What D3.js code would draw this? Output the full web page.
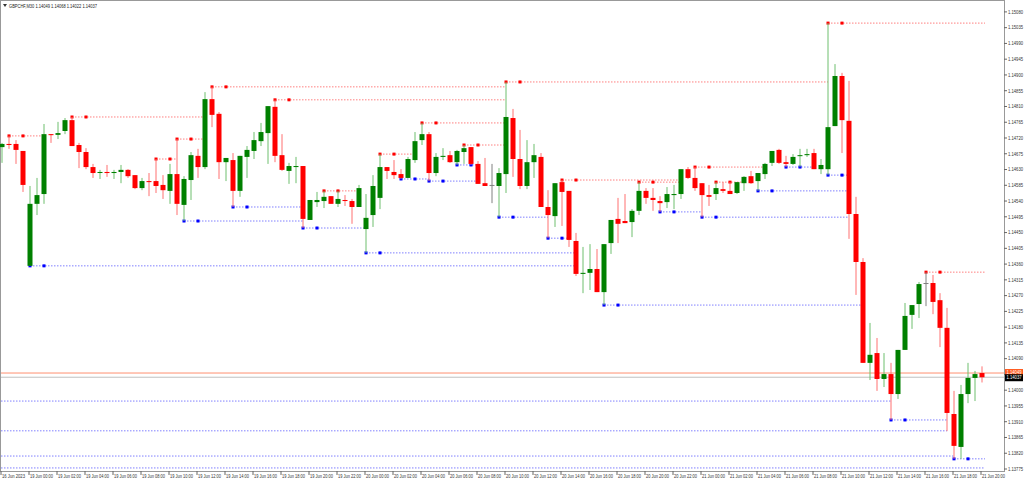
<!DOCTYPE html>
<html>
<head>
<meta charset="utf-8">
<script src="https://cdn.jsdelivr.net/npm/d3@7"></script>
<style>
  body { margin: 0; background: #fff; }
  svg { display: block; font-family: "Liberation Sans", sans-serif; }
</style>
</head>
<body>
<div id="chartId"></div>
<script>
/*
Data: GBPCHF M30 candles
*/
const opens = [
  1.14694,1.14703,1.14703,1.14683,1.14355,1.14532,1.14560,1.14731,1.14729,1.14740,
  1.14771,1.14700,1.14680,1.14637,1.14622,1.14623,1.14620,1.14623,1.14629,1.14614,
  1.14577,1.14597,1.14597,1.14586,1.14569,1.14617,1.14529,1.14600,1.14669,1.14637,
  1.14831,1.14789,1.14651,1.14657,1.14569,1.14666,1.14683,1.14711,1.14734,1.14809,
  1.14671,1.14626,1.14637,1.14640,1.14486,1.14537,1.14540,1.14554,1.14532,1.14543,
  1.14540,1.14523,1.14460,1.14500,1.14549,1.14637,1.14623,1.14617,1.14606,1.14657,
  1.14714,1.14731,1.14620,1.14666,1.14671,1.14651,1.14680,1.14694,1.14646,1.14591,
  1.14586,1.14583,1.14617,1.14777,1.14660,1.14583,1.14651,1.14666,1.14523,1.14497,
  1.14594,1.14569,1.14426,1.14332,1.14335,1.14346,1.14280,1.14420,1.14489,1.14483,
  1.14480,1.14512,1.14569,1.14549,1.14540,1.14537,1.14557,1.14560,1.14631,1.14606,
  1.14591,1.14557,1.14560,1.14574,1.14569,1.14563,1.14591,1.14611,1.14597,1.14617,
  1.14649,1.14686,1.14651,1.14646,1.14669,1.14671,1.14677,1.14631,1.14631,1.14754,
  1.14897,1.14769,1.14503,1.14366,1.14078,1.14106,1.14032,1.14046,1.13989,1.14115,
  1.14215,1.14246,1.14306,1.14306,1.14257,1.14178,1.13932,1.13838,1.13989,1.14035,
  1.14049];
const highs = [
  1.14706,1.14726,1.14714,1.14683,1.14583,1.14606,1.14760,1.14731,1.14766,1.14777,
  1.14780,1.14706,1.14691,1.14646,1.14629,1.14643,1.14629,1.14643,1.14631,1.14614,
  1.14606,1.14620,1.14660,1.14614,1.14646,1.14717,1.14611,1.14680,1.14689,1.14851,
  1.14866,1.14794,1.14663,1.14677,1.14669,1.14697,1.14737,1.14763,1.14811,1.14829,
  1.14731,1.14649,1.14666,1.14640,1.14543,1.14566,1.14569,1.14554,1.14569,1.14557,
  1.14546,1.14586,1.14560,1.14614,1.14674,1.14637,1.14657,1.14631,1.14666,1.14737,
  1.14763,1.14737,1.14677,1.14691,1.14683,1.14686,1.14700,1.14694,1.14654,1.14663,
  1.14646,1.14634,1.14880,1.14803,1.14743,1.14714,1.14703,1.14677,1.14571,1.14591,
  1.14600,1.14569,1.14449,1.14409,1.14417,1.14403,1.14417,1.14486,1.14549,1.14560,
  1.14517,1.14594,1.14577,1.14577,1.14554,1.14580,1.14586,1.14631,1.14637,1.14637,
  1.14591,1.14586,1.14594,1.14594,1.14594,1.14594,1.14611,1.14626,1.14620,1.14649,
  1.14683,1.14689,1.14669,1.14674,1.14689,1.14689,1.14689,1.14660,1.15048,1.14931,
  1.14906,1.14883,1.14552,1.14377,1.14192,1.14149,1.14106,1.14078,1.14115,1.14249,
  1.14243,1.14309,1.14337,1.14329,1.14277,1.14235,1.13998,1.14015,1.14078,1.14055,
  1.14068];
const lows = [
  1.14649,1.14689,1.14646,1.14566,1.14355,1.14500,1.14532,1.14706,1.14717,1.14731,
  1.14697,1.14634,1.14631,1.14606,1.14603,1.14609,1.14603,1.14591,1.14606,1.14574,
  1.14571,1.14554,1.14563,1.14546,1.14532,1.14500,1.14483,1.14543,1.14606,1.14631,
  1.14751,1.14603,1.14597,1.14523,1.14552,1.14606,1.14660,1.14697,1.14646,1.14651,
  1.14626,1.14589,1.14591,1.14463,1.14486,1.14523,1.14520,1.14532,1.14523,1.14526,
  1.14475,1.14523,1.14392,1.14466,1.14517,1.14603,1.14603,1.14603,1.14606,1.14649,
  1.14700,1.14597,1.14611,1.14657,1.14649,1.14643,1.14646,1.14643,1.14589,1.14583,
  1.14534,1.14494,1.14563,1.14609,1.14574,1.14574,1.14606,1.14523,1.14434,1.14466,
  1.14469,1.14409,1.14326,1.14277,1.14286,1.14280,1.14243,1.14389,1.14420,1.14477,
  1.14437,1.14500,1.14532,1.14512,1.14509,1.14520,1.14517,1.14546,1.14603,1.14569,
  1.14494,1.14526,1.14543,1.14563,1.14560,1.14560,1.14569,1.14589,1.14569,1.14603,
  1.14640,1.14646,1.14637,1.14643,1.14637,1.14666,1.14631,1.14617,1.14614,1.14754,
  1.14677,1.14432,1.14272,1.14078,1.14029,1.13998,1.14009,1.13915,1.13975,1.14115,
  1.14175,1.14206,1.14240,1.14217,1.14123,1.13883,1.13804,1.13804,1.13963,1.13969,
  1.14022];
const closes = [
  1.14703,1.14700,1.14686,1.14586,1.14532,1.14557,1.14731,1.14729,1.14734,1.14771,
  1.14697,1.14680,1.14637,1.14620,1.14623,1.14620,1.14623,1.14629,1.14611,1.14577,
  1.14597,1.14594,1.14583,1.14571,1.14617,1.14532,1.14603,1.14671,1.14637,1.14831,
  1.14786,1.14651,1.14663,1.14569,1.14669,1.14686,1.14714,1.14737,1.14811,1.14669,
  1.14629,1.14640,1.14640,1.14489,1.14543,1.14543,1.14552,1.14532,1.14546,1.14540,
  1.14523,1.14577,1.14492,1.14583,1.14637,1.14626,1.14614,1.14606,1.14660,1.14711,
  1.14731,1.14620,1.14666,1.14669,1.14651,1.14683,1.14691,1.14646,1.14589,1.14583,
  1.14586,1.14620,1.14780,1.14660,1.14583,1.14651,1.14671,1.14523,1.14500,1.14591,
  1.14566,1.14429,1.14332,1.14335,1.14346,1.14280,1.14417,1.14486,1.14475,1.14477,
  1.14512,1.14569,1.14549,1.14543,1.14534,1.14560,1.14560,1.14631,1.14606,1.14577,
  1.14557,1.14552,1.14577,1.14569,1.14560,1.14594,1.14609,1.14591,1.14620,1.14646,
  1.14683,1.14649,1.14646,1.14666,1.14671,1.14674,1.14631,1.14643,1.14751,1.14897,
  1.14771,1.14503,1.14366,1.14078,1.14101,1.14032,1.14046,1.13989,1.14115,1.14212,
  1.14243,1.14303,1.14306,1.14252,1.14178,1.13935,1.13841,1.13989,1.14035,1.14046,
  1.14037];

// fractal bars (indexes into the candle arrays)
const highFractals = [1, 10, 22, 25, 30, 39, 46, 54, 60, 66, 72, 80, 91, 99, 102, 118, 132];
const lowFractals = [4, 26, 33, 43, 52, 57, 61, 65, 71, 78, 86, 94, 100, 108, 112, 118, 127, 136];
// support levels coming from before the visible range
const olderLows = [1.13969, 1.13884, 1.13812, 1.13778];

const xLabels = ["16 Jun 2023",
  "19 Jun 00:00", "19 Jun 02:00", "19 Jun 04:00", "19 Jun 06:00", "19 Jun 08:00", "19 Jun 10:00",
  "19 Jun 12:00", "19 Jun 14:00", "19 Jun 16:00", "19 Jun 18:00", "19 Jun 20:00", "19 Jun 22:00",
  "20 Jun 00:00", "20 Jun 02:00", "20 Jun 04:00", "20 Jun 06:00", "20 Jun 08:00", "20 Jun 10:00",
  "20 Jun 12:00", "20 Jun 14:00", "20 Jun 16:00", "20 Jun 18:00", "20 Jun 20:00", "20 Jun 22:00",
  "21 Jun 00:00", "21 Jun 02:00", "21 Jun 04:00", "21 Jun 06:00", "21 Jun 08:00", "21 Jun 10:00",
  "21 Jun 12:00", "21 Jun 14:00", "21 Jun 16:00", "21 Jun 18:00", "21 Jun 20:00"];

const yTicks = [1.13775, 1.13820, 1.13865, 1.13910, 1.13955, 1.14000, 1.14045, 1.14090, 1.14135,
  1.14180, 1.14225, 1.14270, 1.14315, 1.14360, 1.14405, 1.14450, 1.14495, 1.14540, 1.14585,
  1.14630, 1.14675, 1.14720, 1.14765, 1.14810, 1.14855, 1.14900, 1.14945, 1.14990, 1.15035, 1.15080];

const bidPrice = 1.14037;
const askPrice = 1.14049;

/*
Layout
*/
const W = 1024, H = 480;
const plotRight = 1004, plotBottom = 471, lineEnd = 985;
const n = opens.length;

const x = d3.scaleLinear().domain([0, n - 1]).range([2, 982]);
const y = d3.scaleLinear().domain([1.13775, 1.15080]).range([469, 11.9]);

const svg = d3.select("#chartId").append("svg").attr("width", W).attr("height", H);

// frame
svg.append("rect").attr("x", 0.5).attr("y", 0.5).attr("width", plotRight).attr("height", plotBottom)
  .attr("fill", "none").attr("stroke", "#999");

// header
svg.append("path").attr("d", "M3,4 L7,4 L5,7 Z").attr("fill", "#333");
svg.append("text").attr("x", 9).attr("y", 7.5).attr("font-size", 5)
  .attr("textLength", 88).attr("lengthAdjust", "spacingAndGlyphs").attr("fill", "#222")
  .text(`GBPCHF,M30  1.14049 1.14068 1.14022 1.14037`);

/*
Fractal level lines: run until a later bar breaks the level
*/
const g_levels = svg.append("g");

function level_end(start, level, isHigh) {
  for (let j = start + 1; j < n; j++) {
    if (isHigh ? highs[j] > level : lows[j] < level) return x(j);
  }
  return lineEnd;
}

const levelData = [];
highFractals.forEach(i => levelData.push({ i: i, v: highs[i], high: true }));
lowFractals.forEach(i => levelData.push({ i: i, v: lows[i], high: false }));

g_levels.selectAll("line.frac").data(levelData).enter().append("line")
  .attr("x1", d => x(d.i)).attr("x2", d => level_end(d.i + 2, d.v, d.high))
  .attr("y1", d => y(d.v)).attr("y2", d => y(d.v))
  .attr("stroke", d => d.high ? "#ff6060" : "#6060ff")
  .attr("stroke-width", 0.8).attr("stroke-dasharray", "1.5,1.5");

const dotData = [];
levelData.forEach(d => { dotData.push({ i: d.i, d: d }); dotData.push({ i: d.i + 2, d: d }); });
g_levels.selectAll("rect").data(dotData).enter().append("rect")
  .attr("x", p => x(p.i) - 1.5).attr("y", p => y(p.d.v) - 1.5)
  .attr("width", 3).attr("height", 3)
  .attr("fill", p => p.d.high ? "#ff0000" : "#0000ff");

g_levels.selectAll("line.old").data(olderLows).enter().append("line")
  .attr("x1", 1).attr("x2", v => level_end(-1, v, false))
  .attr("y1", v => y(v)).attr("y2", v => y(v))
  .attr("stroke", "#6060ff").attr("stroke-width", 0.8).attr("stroke-dasharray", "1.5,1.5");

/*
Bid / ask lines
*/
svg.append("line").attr("x1", 1).attr("x2", plotRight).attr("y1", y(askPrice)).attr("y2", y(askPrice))
  .attr("stroke", "#ff9070").attr("stroke-width", 1);
svg.append("line").attr("x1", 1).attr("x2", plotRight).attr("y1", y(bidPrice)).attr("y2", y(bidPrice))
  .attr("stroke", "#c0c0c0").attr("stroke-width", 1);

/*
Candles
*/
const candles = d3.range(n).map(i => ({ i: i, o: opens[i], h: highs[i], l: lows[i], c: closes[i] }));
function col(d, light) {
  if (d.c > d.o) return light ? "#6fbf6f" : "#008000";
  if (d.c < d.o) return light ? "#ff7070" : "#ff0000";
  return "#808080";
}

const g_candles = svg.append("g");
g_candles.selectAll("line").data(candles).enter().append("line")
  .attr("x1", d => x(d.i)).attr("x2", d => x(d.i))
  .attr("y1", d => y(d.h)).attr("y2", d => y(d.l))
  .attr("stroke", d => col(d, true)).attr("stroke-width", 1);

g_candles.selectAll("rect").data(candles).enter().append("rect")
  .attr("x", d => x(d.i) - 2.5).attr("width", 5)
  .attr("y", d => y(Math.max(d.o, d.c)))
  .attr("height", d => Math.max(1, Math.abs(y(d.o) - y(d.c))))
  .attr("fill", d => col(d, false));

/*
Price axis
*/
const g_axis = svg.append("g").attr("font-size", 4.6).attr("fill", "#333");
g_axis.selectAll("line").data(yTicks).enter().append("line")
  .attr("x1", plotRight).attr("x2", plotRight + 3)
  .attr("y1", d => y(d)).attr("y2", d => y(d)).attr("stroke", "#666");
g_axis.selectAll("text").data(yTicks.filter(t => t !== 1.14045)).enter().append("text")
  .attr("x", plotRight + 4).attr("y", d => y(d) + 1.8)
  .attr("textLength", 15).attr("lengthAdjust", "spacingAndGlyphs")
  .text(d => d.toFixed(5));

// current price labels
svg.append("rect").attr("x", plotRight + 1).attr("y", y(askPrice) - 4).attr("width", 18).attr("height", 7)
  .attr("fill", "#ff5a1e");
svg.append("text").attr("x", plotRight + 2.5).attr("y", y(askPrice) + 1.2).attr("font-size", 4.6)
  .attr("textLength", 15).attr("lengthAdjust", "spacingAndGlyphs")
  .attr("fill", "#fff").text(askPrice.toFixed(5));
svg.append("rect").attr("x", plotRight + 1).attr("y", y(bidPrice) - 3).attr("width", 18).attr("height", 7)
  .attr("fill", "#000");
svg.append("text").attr("x", plotRight + 2.5).attr("y", y(bidPrice) + 2.2).attr("font-size", 4.6)
  .attr("textLength", 15).attr("lengthAdjust", "spacingAndGlyphs")
  .attr("fill", "#fff").text(bidPrice.toFixed(5));

/*
Time axis
*/
const g_time = svg.append("g").attr("font-size", 4.6).attr("fill", "#333");
g_time.selectAll("line").data(xLabels).enter().append("line")
  .attr("x1", (d, k) => x(k * 4) - 1).attr("x2", (d, k) => x(k * 4) - 1)
  .attr("y1", plotBottom).attr("y2", plotBottom + 4).attr("stroke", "#666");
g_time.selectAll("text").data(xLabels).enter().append("text")
  .attr("x", (d, k) => x(k * 4)).attr("y", plotBottom + 7)
  .attr("textLength", 23).attr("lengthAdjust", "spacingAndGlyphs")
  .text(d => d);
</script>
</body>
</html>
